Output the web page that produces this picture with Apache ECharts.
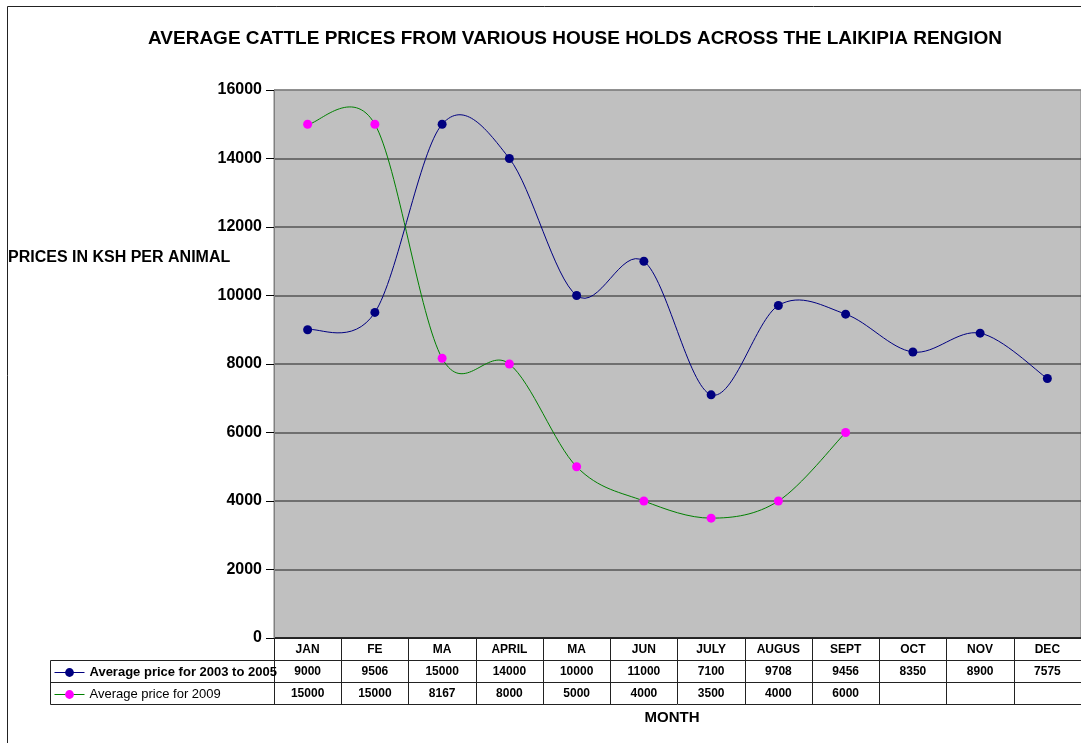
<!DOCTYPE html>
<html>
<head>
<meta charset="utf-8">
<title>Average cattle prices</title>
<script src="https://cdn.jsdelivr.net/npm/echarts@6/dist/echarts.min.js"></script>
<style>
  html, body { margin: 0; padding: 0; background: #fff; }
  #chart { width: 1081px; height: 743px; }
</style>
</head>
<body>
<div id="chart"></div>
<script>
  // 数据
  const months = ['JAN', 'FE', 'MA', 'APRIL', 'MA', 'JUN', 'JULY', 'AUGUS', 'SEPT', 'OCT', 'NOV', 'DEC']
  const avg0305 = [9000, 9506, 15000, 14000, 10000, 11000, 7100, 9708, 9456, 8350, 8900, 7575]
  const avg2009 = [15000, 15000, 8167, 8000, 5000, 4000, 3500, 4000, 6000, null, null, null]
  const seriesNames = ['Average price for 2003 to 2005', 'Average price for 2009']
  const yTicks = { min: 0, max: 16000, interval: 2000 }

  const font = 'Liberation Sans, Arial, sans-serif'
  const lineColors = ['#000080', '#008000']
  const dotColors = ['#000080', '#FF00FF']
  // 月份可能重复（MA），类目用下标区分
  const monthsKey = months.map((m, i) => m + '_' + i)

  // x轴叠加几条，当作下面的数据表
  const tableAxis = (offset, rowValues) => ({
    type: 'category',
    data: monthsKey,
    position: 'bottom',
    offset: offset,
    boundaryGap: true,
    axisLine: { show: true, lineStyle: { color: '#222', width: 1 } },
    axisTick: { show: !!rowValues, length: 22, inside: false, lineStyle: { color: '#222', width: 1 } },
    axisLabel: {
      show: !!rowValues,
      interval: 0,
      margin: 6,
      fontFamily: font,
      fontSize: 12,
      fontWeight: 'bold',
      color: '#000',
      formatter: function (v, i) {
        const val = rowValues ? rowValues[i] : ''
        return val === null || val === undefined ? '' : String(val)
      }
    },
    splitLine: { show: false }
  })

  // 仿Excel的平滑曲线（Catmull-Rom），每段一条贝塞尔
  const smoothCurve = (values, color) => ({
    type: 'custom',
    silent: true,
    z: 2,
    data: values.map((v, i) => [i, v]),
    renderItem: function (params, api) {
      const i = params.dataIndex
      const has = k => k >= 0 && k < values.length && values[k] !== null
      if (!has(i) || !has(i + 1)) return null
      const p1 = api.coord([i, values[i]])
      const p2 = api.coord([i + 1, values[i + 1]])
      const p0 = has(i - 1) ? api.coord([i - 1, values[i - 1]]) : p1
      const p3 = has(i + 2) ? api.coord([i + 2, values[i + 2]]) : p2
      return {
        type: 'bezierCurve',
        shape: {
          x1: p1[0], y1: p1[1],
          cpx1: p1[0] + (p2[0] - p0[0]) / 6, cpy1: p1[1] + (p2[1] - p0[1]) / 6,
          cpx2: p2[0] - (p3[0] - p1[0]) / 6, cpy2: p2[1] - (p3[1] - p1[1]) / 6,
          x2: p2[0], y2: p2[1]
        },
        style: { stroke: color, fill: null, lineWidth: 1 }
      }
    }
  })

  const chart = echarts.init(document.getElementById('chart'))
  chart.setOption({
    backgroundColor: '#fff',
    animation: false,
    title: [{
      text: 'AVERAGE CATTLE PRICES FROM VARIOUS HOUSE HOLDS ACROSS THE LAIKIPIA RENGION',
      left: 575, top: 29, textAlign: 'center', padding: 0,
      textStyle: { fontFamily: font, fontSize: 19, fontWeight: 'bold', color: '#000' }
    }, {
      text: 'PRICES IN KSH PER ANIMAL',
      left: 8, top: 250, padding: 0,
      textStyle: { fontFamily: font, fontSize: 16, fontWeight: 'bold', color: '#000' }
    }, {
      text: 'MONTH',
      left: 672, top: 710, textAlign: 'center', padding: 0,
      textStyle: { fontFamily: font, fontSize: 15, fontWeight: 'bold', color: '#000' }
    }],
    legend: {
      orient: 'vertical',
      left: 54, top: 665,
      padding: 0,
      itemGap: 7,
      itemWidth: 30,
      itemHeight: 11,
      lineStyle: { opacity: 1, width: 1 },
      textStyle: { fontFamily: font, fontSize: 13, color: '#000', lineHeight: 15 },
      data: [
        { name: seriesNames[0], textStyle: { fontWeight: 'bold' } },
        { name: seriesNames[1], textStyle: { fontWeight: 'normal' } }
      ]
    },
    grid: {
      left: 274, right: 0, top: 90, bottom: 105,
      show: true,
      backgroundColor: '#C0C0C0',
      borderColor: '#808080',
      borderWidth: 1
    },
    xAxis: [
      Object.assign(tableAxis(0, null), {
        axisTick: { show: true, length: 22, lineStyle: { color: '#222' } },
        axisLabel: {
          show: true, interval: 0, margin: 6,
          fontFamily: font, fontSize: 12, fontWeight: 'bold', color: '#000',
          formatter: (v, i) => months[i]
        }
      }),
      tableAxis(22, avg0305),
      tableAxis(44, avg2009),
      tableAxis(66, null)
    ],
    yAxis: {
      type: 'value',
      min: yTicks.min,
      max: yTicks.max,
      interval: yTicks.interval,
      axisLine: { show: true, lineStyle: { color: '#808080' } },
      axisTick: { show: true, length: 8, lineStyle: { color: '#000' } },
      axisLabel: {
        margin: 12,
        fontFamily: font, fontSize: 16, fontWeight: 'bold', color: '#000',
        formatter: v => String(v)
      },
      splitLine: {
        show: true,
        lineStyle: {
          color: ['#000', '#555', '#555', '#555', '#555', '#555', '#555', '#555', '#808080'],
          width: 1.5
        }
      }
    },
    series: [
      smoothCurve(avg0305, lineColors[0]),
      smoothCurve(avg2009, lineColors[1]),
      {
        name: seriesNames[0],
        type: 'line',
        data: avg0305,
        symbol: 'circle',
        symbolSize: 9,
        z: 3,
        itemStyle: { color: dotColors[0] },
        lineStyle: { color: lineColors[0], width: 1, opacity: 0 }
      }, {
        name: seriesNames[1],
        type: 'line',
        data: avg2009,
        symbol: 'circle',
        symbolSize: 9,
        z: 3,
        itemStyle: { color: dotColors[1] },
        lineStyle: { color: lineColors[1], width: 1, opacity: 0 }
      }
    ],
    graphic: [{
      // 外框
      type: 'rect',
      shape: { x: 7.5, y: 6.5, width: 1200, height: 900 },
      style: { fill: 'none', stroke: '#222', lineWidth: 1 },
      silent: true
    }, {
      // 图例那一列的表格线
      type: 'polyline',
      shape: { points: [[274, 660.5], [50.5, 660.5], [50.5, 704.5], [274, 704.5]] },
      style: { fill: 'none', stroke: '#222', lineWidth: 1 },
      silent: true
    }, {
      type: 'line',
      shape: { x1: 50, y1: 682.5, x2: 274, y2: 682.5 },
      style: { stroke: '#222', lineWidth: 1 },
      silent: true
    }]
  })
</script>
</body>
</html>
